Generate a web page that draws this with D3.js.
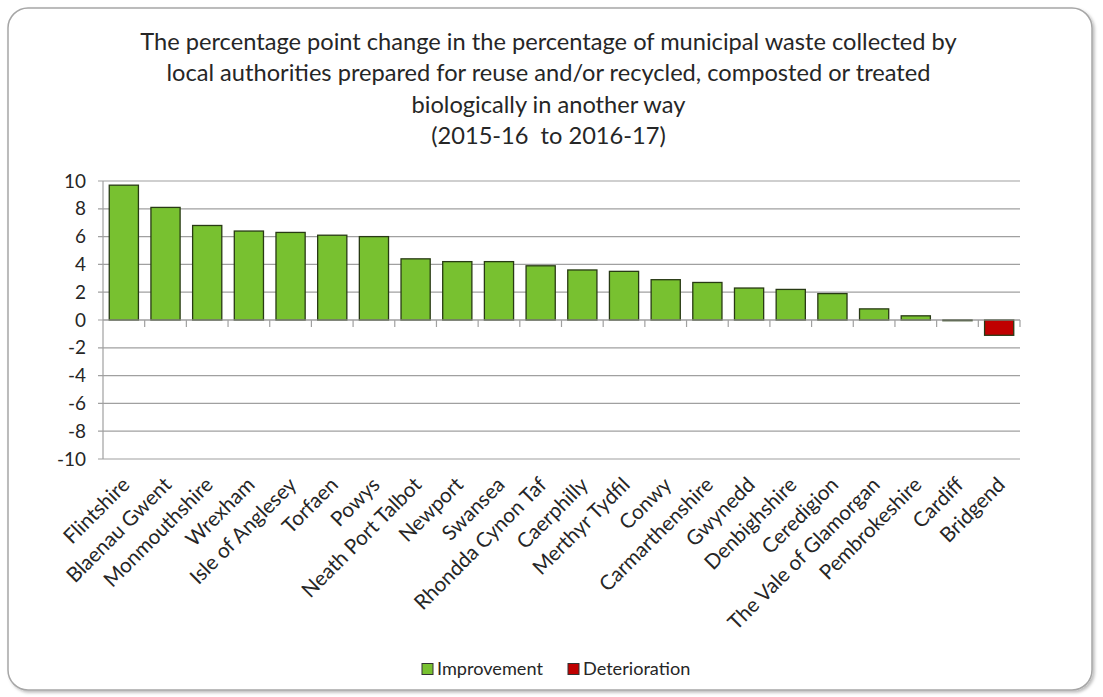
<!DOCTYPE html>
<html>
<head>
<meta charset="utf-8">
<script src="https://cdn.jsdelivr.net/npm/d3@7"></script>
<style>
  html, body { margin: 0; padding: 0; background: #ffffff; }
  svg { display: block; }
  text { font-family: Lato, "Open Sans", sans-serif; fill: #262626; }
</style>
</head>
<body>
<svg id="chart" width="1103" height="697"></svg>
<script>
// ---- data ----
const titleLines = [
  "The percentage point change in the percentage of municipal waste collected by",
  "local authorities prepared for reuse and/or recycled, composted or treated",
  "biologically in another way",
  "(2015-16  to 2016-17)"
];
const categories = ["Flintshire","Blaenau Gwent","Monmouthshire","Wrexham","Isle of Anglesey","Torfaen","Powys","Neath Port Talbot","Newport","Swansea","Rhondda Cynon Taf","Caerphilly","Merthyr Tydfil","Conwy","Carmarthenshire","Gwynedd","Denbighshire","Ceredigion","The Vale of Glamorgan","Pembrokeshire","Cardiff","Bridgend"];
const improvement = [9.7, 8.1, 6.8, 6.4, 6.3, 6.1, 6.0, 4.4, 4.2, 4.2, 3.9, 3.6, 3.5, 2.9, 2.7, 2.3, 2.2, 1.9, 0.8, 0.3, null, null];
const deterioration = [null, null, null, null, null, null, null, null, null, null, null, null, null, null, null, null, null, null, null, null, -0.05, -1.1];
const seriesNames = ["Improvement", "Deterioration"];
const seriesColors = ["#78c130", "#c00000"];
const yTicks = [-10, -8, -6, -4, -2, 0, 2, 4, 6, 8, 10];

// ---- layout ----
const svg = d3.select("#chart");
const plot = { left: 103, right: 1020, top: 181, bottom: 459 };

// helper to fit font size to target width
function fitSize(str, targetWidth, weight) {
  const t = svg.append("text").attr("font-size", 100).attr("font-weight", weight || "normal").text(str);
  const w = t.node().getComputedTextLength();
  t.remove();
  return 100 * targetWidth / w;
}

// border with shadow
const defs = svg.append("defs");
const f = defs.append("filter").attr("id", "sh").attr("x", "-5%").attr("y", "-5%").attr("width", "110%").attr("height", "110%");
f.append("feDropShadow").attr("dx", 2).attr("dy", 2).attr("stdDeviation", 1.5).attr("flood-color", "#000").attr("flood-opacity", 0.25);
svg.append("rect")
  .attr("x", 8).attr("y", 8).attr("width", 1084).attr("height", 682)
  .attr("rx", 20).attr("ry", 20)
  .attr("fill", "#ffffff").attr("stroke", "#a6a6a6").attr("stroke-width", 1.5)
  .attr("filter", "url(#sh)");

// title
const titleSize = fitSize(titleLines[0], 817);
svg.append("g").selectAll("text").data(titleLines).join("text")
  .attr("x", 548.5)
  .attr("y", (d, i) => 50 + i * 31.3)
  .attr("text-anchor", "middle")
  .attr("font-size", titleSize)
  .style("white-space", "pre")
  .text(d => d);

// scales
const x = d3.scaleBand().domain(categories).range([plot.left, plot.right]).paddingInner(0.3).paddingOuter(0.15);
const y = d3.scaleLinear().domain([-10, 10]).range([plot.bottom, plot.top]);

// gridlines
svg.append("g").selectAll("line").data(yTicks).join("line")
  .attr("x1", plot.left - 5).attr("x2", plot.right)
  .attr("y1", d => y(d)).attr("y2", d => y(d))
  .attr("stroke", "#a0a0a0").attr("stroke-width", 1.2);

// y-axis line
svg.append("line")
  .attr("x1", plot.left).attr("x2", plot.left)
  .attr("y1", plot.top).attr("y2", plot.bottom)
  .attr("stroke", "#a0a0a0").attr("stroke-width", 1.2);

// y tick labels
const ySize = fitSize("10", 22);
svg.append("g").selectAll("text").data(yTicks).join("text")
  .attr("x", 86).attr("y", d => y(d))
  .attr("dy", "0.35em")
  .attr("text-anchor", "end")
  .attr("font-size", ySize)
  .text(d => d);

// bars
const barData = [];
categories.forEach((c, i) => {
  if (improvement[i] != null) barData.push({ c, v: improvement[i], s: 0 });
  if (deterioration[i] != null) barData.push({ c, v: deterioration[i], s: 1 });
});
svg.append("g").selectAll("rect").data(barData).join("rect")
  .attr("x", d => x(d.c))
  .attr("width", x.bandwidth())
  .attr("y", d => y(Math.max(0, d.v)))
  .attr("height", d => Math.abs(y(d.v) - y(0)))
  .attr("fill", d => seriesColors[d.s])
  .attr("stroke", "#283a14").attr("stroke-width", 1.3);

// x axis line at zero with ticks between categories
const gx = svg.append("g").attr("transform", `translate(0,${y(0)})`);
gx.append("line").attr("x1", plot.left).attr("x2", plot.right).attr("y1", 0).attr("y2", 0)
  .attr("stroke", "#a0a0a0").attr("stroke-width", 1.2);
const step = x.step();
const boundaries = categories.map(c => x(c) + x.bandwidth() + (step - x.bandwidth()) / 2);
gx.selectAll("line.tk").data(boundaries).join("line").attr("class", "tk")
  .attr("x1", d => d).attr("x2", d => d).attr("y1", 0).attr("y2", 7)
  .attr("stroke", "#a0a0a0").attr("stroke-width", 1.2);

// x labels rotated
const xSize = fitSize("The Vale of Glamorgan", 205);
svg.append("g").selectAll("text").data(categories).join("text")
  .attr("transform", d => `translate(${x(d) + x.bandwidth() / 2 + 2},${plot.bottom + 22}) rotate(-45)`)
  .attr("text-anchor", "end")
  .attr("dy", "0.35em")
  .attr("font-size", xSize)
  .text(d => d);

// legend
const legSize = fitSize("Improvement", 106);
const legX = [422, 568];
const lg = svg.append("g");
seriesNames.forEach((n, i) => {
  lg.append("rect").attr("x", legX[i]).attr("y", 663.5).attr("width", 11).attr("height", 11)
    .attr("fill", seriesColors[i]).attr("stroke", "#333").attr("stroke-width", 1);
  lg.append("text").attr("x", legX[i] + 15).attr("y", 669).attr("dy", "0.35em")
    .attr("font-size", legSize).text(n);
});
</script>
</body>
</html>
